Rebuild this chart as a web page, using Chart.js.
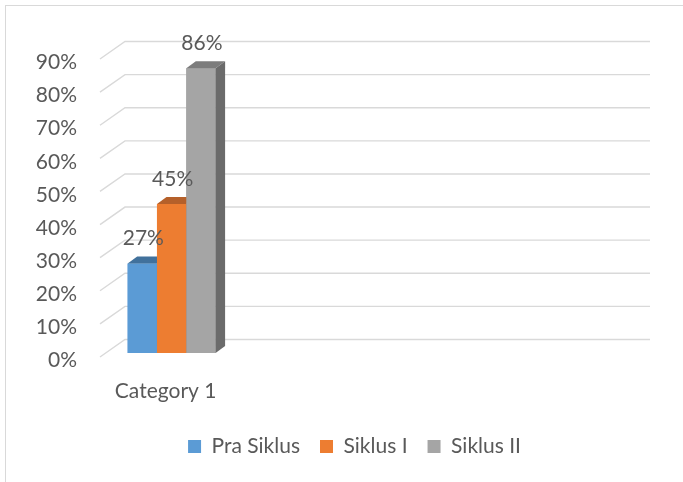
<!DOCTYPE html>
<html>
<head>
<meta charset="utf-8">
<script src="https://cdn.jsdelivr.net/npm/chart.js@4.4.0/dist/chart.umd.min.js"></script>
<style>
  html, body { margin: 0; padding: 0; background: #fff; }
  #wrap { position: relative; width: 683px; height: 482px; overflow: hidden; }
  #frame { position: absolute; left: 5px; top: 5px; width: 700px; height: 500px;
           border-left: 1.5px solid #d9d9d9; border-top: 1.5px solid #d9d9d9; box-sizing: border-box; }
  canvas { position: absolute; left: 0; top: 0; }
</style>
</head>
<body>
<div id="wrap">
  <div id="frame"></div>
  <canvas id="c" width="683" height="482"></canvas>
</div>
<script>
// ---- data ----
const categories = ['Category 1'];
const seriesNames = ['Pra Siklus', 'Siklus I', 'Siklus II'];
const praSiklus = [27];
const siklusI = [45];
const siklusII = [86];
const yTicks = [0, 10, 20, 30, 40, 50, 60, 70, 80, 90];

// ---- styles ----
const frontColors = ['#5b9bd5', '#ed7d31', '#a5a5a5'];
const topColors = ['#41719c', '#b5602a', '#7c7c7c'];
const sideColors = ['#3c6a94', '#ae5a26', '#6b6b6b'];
const textColor = '#595959';
const gridColor = '#d9d9d9';
const FONT = 'Lato, "Noto Sans", sans-serif';
const FS = 21;
const DX = 9.5, DY = -7;

// empty slots so the single category sits at the left of the wide plot, as in the picture
const labels = categories.concat(['', '', '']);
const pad = arr => arr.concat([null, null, null]);

const gridPlugin = {
  id: 'grid3d',
  beforeDatasetsDraw(chart) {
    const ctx = chart.ctx, ys = chart.scales.y, area = chart.chartArea;
    const fx = area.left - 6, bx = fx + 25, rx = area.right + 19;
    ctx.save();
    ctx.strokeStyle = gridColor;
    ctx.lineWidth = 1.4;
    yTicks.forEach(v => {
      const y = ys.getPixelForValue(v);
      ctx.beginPath();
      ctx.moveTo(fx, y + 4);
      ctx.lineTo(bx, y - 13.5);
      ctx.lineTo(rx, y - 13.5);
      ctx.stroke();
    });
    ctx.restore();
  }
};

const barPlugin = {
  id: 'bar3d',
  afterLayout(chart) {
    // legend centred on the whole frame, as in the picture
    const lg = chart.legend;
    if (lg) { lg.left += 39; lg.right += 39; }
  },
  afterDatasetsDraw(chart) {
    const ctx = chart.ctx;
    chart.data.datasets.forEach((ds, i) => {
      chart.getDatasetMeta(i).data.forEach((el, k) => {
        const v = ds.data[k];
        if (v === null || v === undefined) return;
        const p = el.getProps(['x', 'y', 'base', 'width'], true);
        const l = p.x - p.width / 2, r = p.x + p.width / 2, t = p.y, b = p.base;
        ctx.save();
        ctx.fillStyle = frontColors[i];
        ctx.fillRect(l, t, r - l, b - t);
        ctx.fillStyle = topColors[i];
        ctx.beginPath();
        ctx.moveTo(l, t); ctx.lineTo(l + DX, t + DY); ctx.lineTo(r + DX, t + DY); ctx.lineTo(r, t);
        ctx.closePath(); ctx.fill();
        ctx.fillStyle = sideColors[i];
        ctx.beginPath();
        ctx.moveTo(r, t); ctx.lineTo(r + DX, t + DY); ctx.lineTo(r + DX, b + DY); ctx.lineTo(r, b);
        ctx.closePath(); ctx.fill();
        ctx.restore();
      });
    });
  },
  afterDraw(chart) {
    const ctx = chart.ctx;
    ctx.save();
    ctx.font = FS + 'px ' + FONT;
    ctx.fillStyle = textColor;
    ctx.textAlign = 'center';
    ctx.textBaseline = 'middle';
    chart.data.datasets.forEach((ds, i) => {
      chart.getDatasetMeta(i).data.forEach((el, k) => {
        const v = ds.data[k];
        if (v === null || v === undefined) return;
        ctx.fillText(v + '%', el.x + 1, el.y - 25);
      });
    });
    ctx.restore();
  }
};

const mk = (name, data, i) => ({
  label: name,
  data: pad(data),
  backgroundColor: frontColors[i],
  borderWidth: 0,
  categoryPercentage: 0.67,
  barPercentage: 1.0
});

new Chart(document.getElementById('c'), {
  type: 'bar',
  data: {
    labels: labels,
    datasets: [mk(seriesNames[0], praSiklus, 0), mk(seriesNames[1], siklusI, 1), mk(seriesNames[2], siklusII, 2)]
  },
  options: {
    responsive: false,
    animation: false,
    layout: { padding: { left: 0, right: 52, top: 55, bottom: 15 } },
    scales: {
      x: {
        grid: { display: false, drawTicks: false },
        border: { display: false },
        ticks: { color: textColor, font: { size: FS, family: FONT }, padding: 26, labelOffset: -6, maxRotation: 0, autoSkip: false },
        afterFit(s) { s.height = 63; }
      },
      y: {
        min: 0, max: 90,
        afterBuildTicks(s) { s.ticks = yTicks.map(v => ({ value: v })); },
        grid: { display: false, drawTicks: false },
        border: { display: false },
        ticks: { color: textColor, font: { size: FS, family: FONT }, padding: 29, labelOffset: 7.5, callback: v => v + '%' },
        afterFit(s) { s.width = 106; }
      }
    },
    plugins: {
      tooltip: { enabled: false },
      legend: {
        position: 'bottom',
        labels: {
          color: textColor,
          font: { size: FS, family: FONT },
          boxWidth: 13, boxHeight: 13,
          padding: 20
        }
      }
    }
  },
  plugins: [gridPlugin, barPlugin]
});
</script>
</body>
</html>
